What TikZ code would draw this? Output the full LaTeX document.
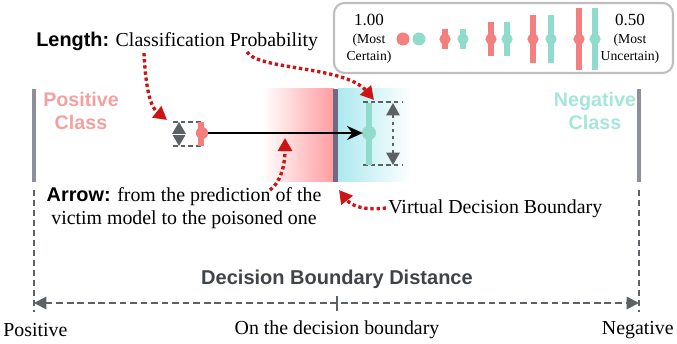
\documentclass[tikz,border=0pt]{standalone}
\usepackage{fontspec}
\setmainfont{Liberation Serif}
\setsansfont{Liberation Sans}
\usetikzlibrary{arrows.meta,positioning}
\definecolor{posred}{HTML}{F47F7F}
\definecolor{negteal}{HTML}{8FDCCD}
\definecolor{postxt}{HTML}{F5A0A0}
\definecolor{negtxt}{HTML}{A5E5DB}
\definecolor{hintred}{HTML}{CC1414}
\definecolor{axisgray}{HTML}{5C6166}
\definecolor{classgray}{HTML}{8D909A}
\definecolor{bndgray}{HTML}{6D6A82}
\definecolor{posfade}{HTML}{FF9CA0}
\definecolor{negfade}{HTML}{ADE9EF}
\definecolor{keygray}{HTML}{BEBEBE}
\definecolor{titlegray}{HTML}{404448}

\tikzset{
  hint/.style={hintred, line width=1.9pt, dash pattern=on 1.9pt off 1.6pt,
    -{Triangle[length=7.5pt,width=8pt]}},
  probbar/.style={line width=3.2pt},
  guide/.style={axisgray, line width=0.9pt, dash pattern=on 2.6pt off 1.8pt},
  classlbl/.style={font=\fontsize{11.2}{13.6}\selectfont\sffamily\bfseries, align=center, inner sep=0pt},
  keylbl/.style={font=\fontsize{7.8}{9.9}\selectfont, align=center, inner sep=0pt},
  txt/.style={inner sep=0pt}
}

\begin{document}
\begin{tikzpicture}[x=0.02cm, y=-0.02cm, line cap=butt,
  font=\fontsize{11.3}{13}\selectfont]
  \useasboundingbox (0,0) rectangle (677,344);

  % shaded regions on both sides of the boundary
  \shade[left color=white, right color=posfade] (263,89) rectangle (334,182);
  \shade[left color=negfade, right color=white] (338,89) rectangle (412,182);
  \fill[bndgray] (333,89) rectangle (338,182);

  % class borders
  \draw[classgray, line width=1.8pt] (34,89) -- (34,182);
  \draw[classgray, line width=1.8pt] (639,89) -- (639,182);
  \draw[guide, line width=1.1pt, dash pattern=on 3.5pt off 2.2pt] (34,190) -- (34,312);
  \draw[guide, line width=1.1pt, dash pattern=on 3.5pt off 2.2pt] (639,190) -- (639,312);

  \node[classlbl, text=postxt] (poscls) at (81,111) {Positive\\Class};
  \node[classlbl, text=negtxt] (negcls) at (595,111) {Negative\\Class};

  % legend
  \draw[keygray, line width=1.2pt, rounded corners=6pt, fill=white] (334,3) rectangle (673,73);
  \node[keylbl] (keyhi) at (369,39) {{\fontsize{9.7}{9.9}\selectfont 1.00}\\(Most\\Certain)};
  \node[keylbl] (keylo) at (630,39) {{\fontsize{9.7}{9.9}\selectfont 0.50}\\(Most\\Uncertain)};
  \fill[posred] (403,39) circle (3.7pt);
  \fill[negteal] (419,39) circle (3.7pt);
  \foreach \rx/\tx/\h in {445/463/10, 491/507/17, 533/551/24, 579/595/31} {
    \draw[probbar, posred] (\rx,39-\h) -- (\rx,39+\h);
    \fill[posred] (\rx,39) circle (3.2pt);
    \draw[probbar, negteal] (\tx,39-\h) -- (\tx,39+\h);
    \fill[negteal] (\tx,39) circle (3.2pt);
  }

  % victim prediction
  \draw[guide] (173,122) -- (203,122);
  \draw[guide] (173,146) -- (203,146);
  \fill[axisgray] (179,122) -- (186,134) -- (179,146) -- (172,134) -- cycle;
  \draw[white, line width=0.4pt] (172,134) -- (186,134);
  \draw[probbar, posred] (201,122) -- (201,146);
  \fill[posred] (202,133) circle (3.5pt);
  \coordinate (vict) at (202,133);

  % poisoned prediction
  \draw[guide] (363,102) -- (402,102);
  \draw[guide] (363,165) -- (402,165);
  \draw[probbar, negteal] (369,103) -- (369,165);
  \fill[negteal] (369,133) circle (4pt);
  \coordinate (pois) at (369,133);
  \draw[axisgray, line width=1.2pt, dash pattern=on 2pt off 2pt,
    {Triangle[length=7pt,width=7.5pt]}-{Triangle[length=7pt,width=7.5pt]}] (393,103) -- (393,165);

  \draw[line width=1.1pt, -{Stealth[length=9pt,width=8pt]}] (vict) ++(6,0) -- ([xshift=-3.5pt]pois);

  % annotations
  \node[txt, anchor=west] (lenlbl) at (36,41) {\textsf{\textbf{Length:}} Classification Probability};
  \node[txt, align=center] (arrlbl) at (184,208) {\textsf{\textbf{Arrow:}} from the prediction of the\\victim model to the poisoned one};
  \node[txt, anchor=west] (vdblbl) at (388,209) {Virtual Decision Boundary};

  \coordinate (lena) at (144,53);
  \coordinate (lenb) at (247,52);
  \coordinate (arra) at (270,190);
  \coordinate (vdba) at (386,208);
  \draw[hint] (lena) .. controls (146,95) and (152,108) .. (167,120);
  \draw[hint] (lenb) .. controls (258,70) and (345,66) .. (374,100);
  \draw[hint] (arra) .. controls (283,180) and (285,160) .. (285,138);
  \draw[hint] (vdba) .. controls (360,211) and (350,204) .. (339,190);

  % distance axis
  \node[txt, font=\fontsize{11.4}{13}\selectfont\sffamily\bfseries, text=titlegray] (axtitle) at (337,279) {Decision Boundary Distance};
  \coordinate (axl) at (34,303);
  \coordinate (axr) at (639,303);
  \draw[guide, line width=1.2pt, dash pattern=on 3.8pt off 2.2pt,
    {Triangle[length=7pt,width=7pt]}-{Triangle[length=7pt,width=7pt]}] (axl) -- (axr);
  \draw[axisgray, line width=1.5pt] (337,296) -- (337,311);
  \node[txt, anchor=west] (posend) at (3,330) {Positive};
  \node[txt] (midpt) at (337,330) {On the decision boundary};
  \node[txt, anchor=east] (negend) at (674,330) {Negative};
\end{tikzpicture}
\end{document}
